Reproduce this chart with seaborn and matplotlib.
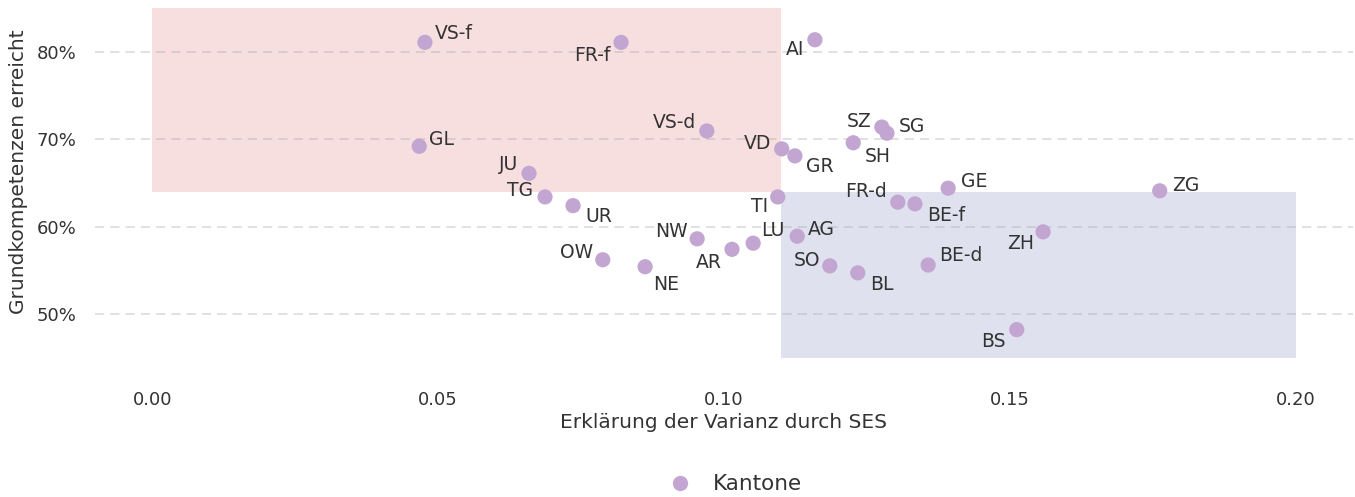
import numpy as np
import pandas as pd
import matplotlib
matplotlib.use('Agg')
import matplotlib.pyplot as plt
import seaborn as sns
from matplotlib.patches import Rectangle
from matplotlib.ticker import FuncFormatter

# values
kantone = ['VS-f', 'FR-f', 'AI', 'GL', 'VS-d', 'JU', 'TG', 'UR', 'VD', 'GR',
           'SZ', 'SG', 'SH', 'TI', 'FR-d', 'BE-f', 'GE', 'ZG', 'ZH', 'NW',
           'AR', 'LU', 'AG', 'OW', 'NE', 'SO', 'BL', 'BE-d', 'BS']
ses_varianz = [0.0477, 0.0820, 0.1159, 0.0467, 0.0970, 0.0659, 0.0687, 0.0736, 0.1101, 0.1124,
               0.1276, 0.1285, 0.1226, 0.1094, 0.1304, 0.1334, 0.1392, 0.1762, 0.1558, 0.0953,
               0.1014, 0.1051, 0.1128, 0.0788, 0.0862, 0.1185, 0.1234, 0.1357, 0.1512]
grundkompetenzen = [81.1, 81.1, 81.4, 69.2, 70.95, 66.1, 63.4, 62.4, 68.9, 68.1,
                    71.4, 70.7, 69.6, 63.4, 62.8, 62.6, 64.4, 64.1, 59.4, 58.6,
                    57.4, 58.1, 58.9, 56.2, 55.4, 55.5, 54.7, 55.6, 48.2]

# label placement: dx / dy in pixels, 'baseline' = text sits above, 'top' = text hangs below
label_pos = {
    'VS-f': (10, 3, 'left', 'baseline'), 'FR-f': (-11, -4, 'right', 'top'),
    'AI': (-11, 0, 'right', 'top'), 'GL': (10, 1, 'left', 'baseline'),
    'VS-d': (-11, 3, 'right', 'baseline'), 'JU': (-11, 3, 'right', 'baseline'),
    'TG': (-12, 1, 'right', 'baseline'), 'UR': (12, -1, 'left', 'top'),
    'VD': (-11, 0, 'right', 'baseline'), 'GR': (11, -1, 'left', 'top'),
    'SZ': (-10, 0, 'right', 'baseline'), 'SG': (12, 1, 'left', 'baseline'),
    'SH': (12, -4, 'left', 'top'), 'TI': (-10, 0, 'right', 'top'),
    'FR-d': (-11, 5, 'right', 'baseline'), 'BE-f': (12, -2, 'left', 'top'),
    'GE': (13, 1, 'left', 'baseline'), 'ZG': (12, 0, 'left', 'baseline'),
    'ZH': (-9, -2, 'right', 'top'), 'NW': (-9, 2, 'right', 'baseline'),
    'AR': (-10, -4, 'right', 'top'), 'LU': (8, 7, 'left', 'baseline'),
    'AG': (11, 1, 'left', 'baseline'), 'OW': (-10, 2, 'right', 'baseline'),
    'NE': (8, -8, 'left', 'top'), 'SO': (-10, 0, 'right', 'baseline'),
    'BL': (12, -2, 'left', 'top'), 'BE-d': (11, 4, 'left', 'baseline'),
    'BS': (-11, -2, 'right', 'top'),
}

df = pd.DataFrame({'Kanton': kantone, 'SES': ses_varianz, 'GK': grundkompetenzen})

sns.set_style('white')
plt.rcParams['font.family'] = ['DejaVu Sans']
text_color = '#333333'

W, H = 1355, 497
fig = plt.figure(figsize=(W / 100, H / 100), dpi=100)
ax = fig.add_axes([95 / W, 1 - 380 / H, (1353 - 95) / W, 375 / H])

# highlighted areas
ax.add_patch(Rectangle((0.0, 64), 0.11, 21, color='#f7dfe0', zorder=0, lw=0))
ax.add_patch(Rectangle((0.11, 45), 0.09, 19, color='#dfe2ee', zorder=0, lw=0))

sns.scatterplot(data=df, x='SES', y='GK', color='#c3a5d1', s=120, edgecolor='none',
                ax=ax, zorder=3, legend=False)

for name, xv, yv in zip(kantone, ses_varianz, grundkompetenzen):
    dx, dy, ha, va = label_pos[name]
    ax.annotate(name, (xv, yv), xytext=(dx * 0.72, dy * 0.72), textcoords='offset points',
                ha=ha, va=va, fontsize=13.5, color=text_color, zorder=4)

ax.set_xlim(-0.01, 0.21)
ax.set_ylim(42.43, 85.38)
ax.set_xticks([0.0, 0.05, 0.10, 0.15, 0.20])
ax.set_xticklabels(['0.00', '0.05', '0.10', '0.15', '0.20'])
ax.set_yticks([50, 60, 70, 80])
ax.yaxis.set_major_formatter(FuncFormatter(lambda v, p: f'{v:.0f}%'))
ax.grid(axis='y', color='#a8a8a8', alpha=0.45, linestyle=(0, (6, 4)), linewidth=1.1, zorder=1)
ax.grid(axis='x', visible=False)
for s in ax.spines.values():
    s.set_visible(False)
ax.tick_params(length=0, labelsize=13, colors=text_color)
ax.tick_params(axis='x', pad=8)
ax.tick_params(axis='y', pad=13.5)

ax.set_xlabel('Erklärung der Varianz durch SES', fontsize=14.5, color=text_color, labelpad=3)
ax.set_ylabel('Grundkompetenzen erreicht', fontsize=14.5, color=text_color)
ax.yaxis.set_label_coords(-0.053, 0.555)

handle = plt.Line2D([], [], marker='o', linestyle='none', markersize=11,
                    markerfacecolor='#c3a5d1', markeredgecolor='none')
fig.legend([handle], ['Kantone'], loc='center', bbox_to_anchor=(0.539, 0.026),
           frameon=False, fontsize=15.5, labelcolor=text_color, handletextpad=0.5)

fig.savefig('out.png', dpi=100)
